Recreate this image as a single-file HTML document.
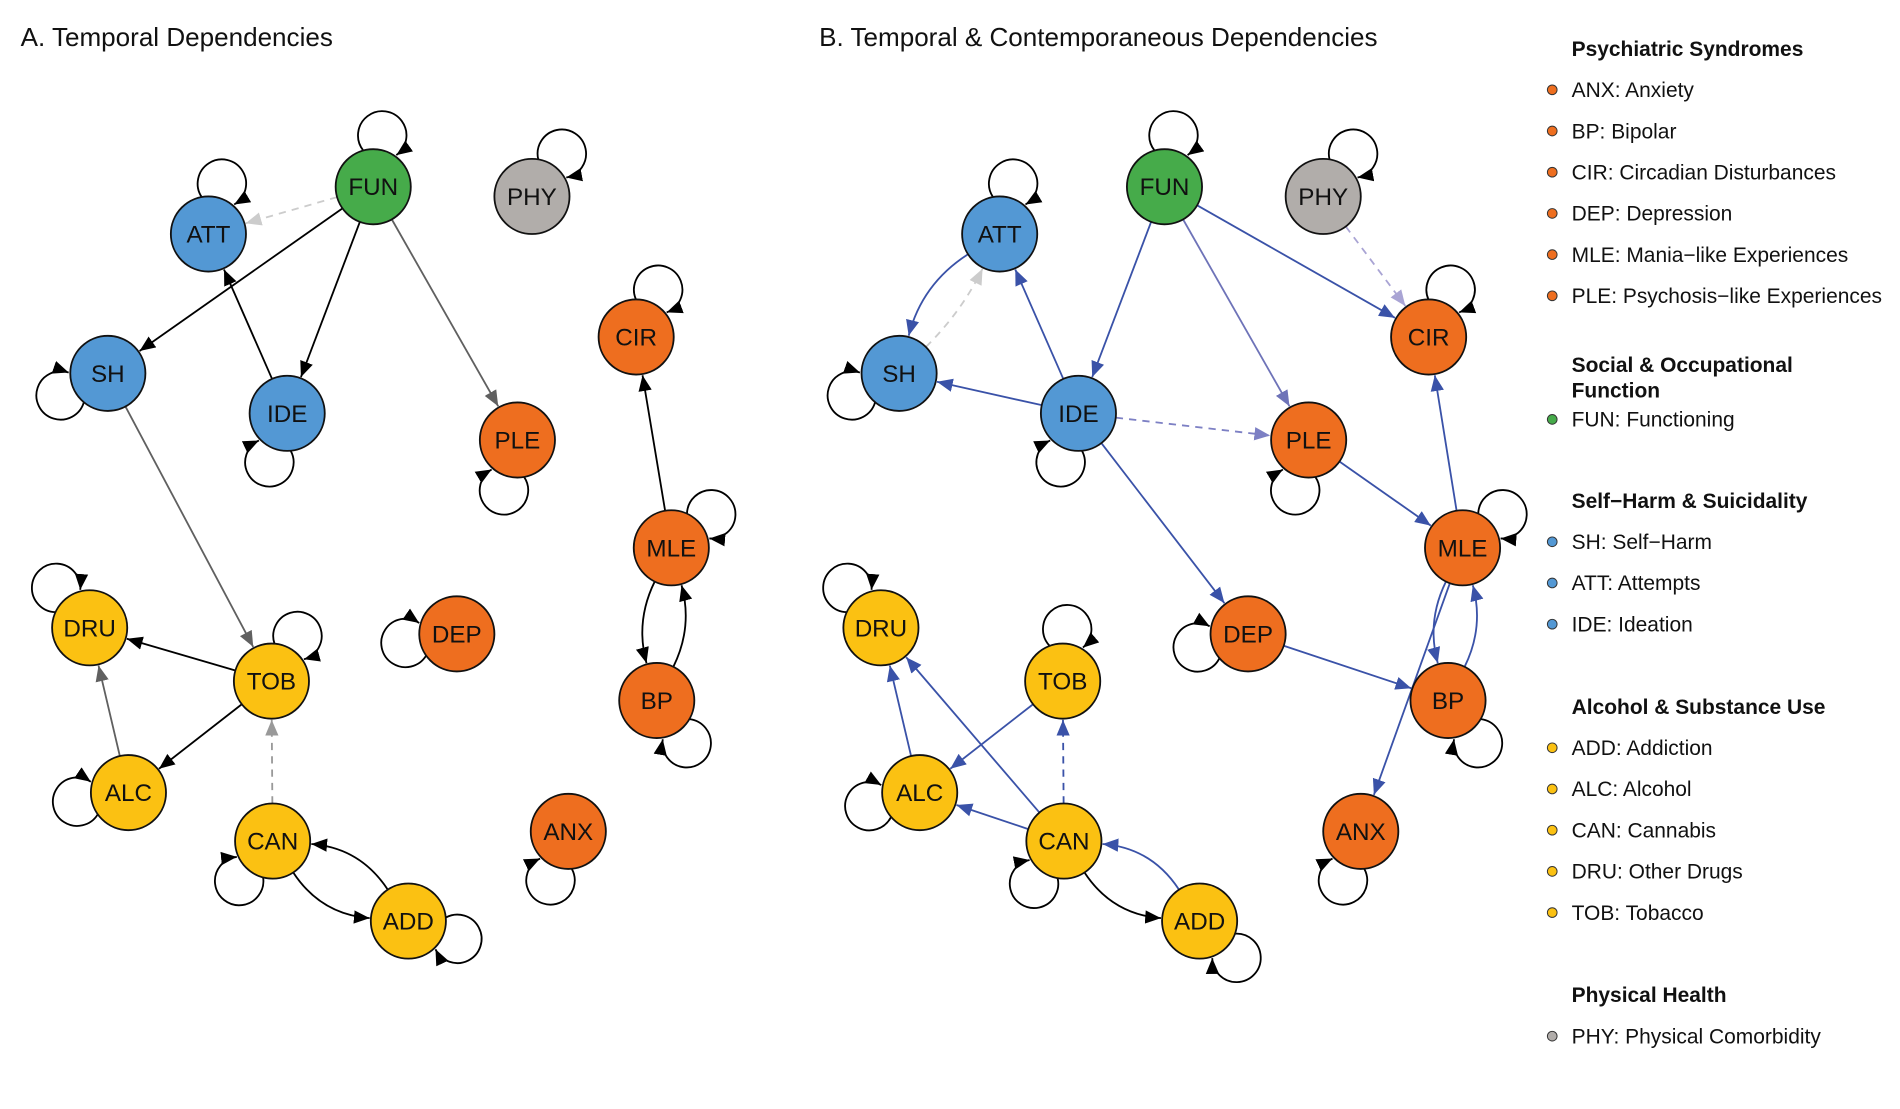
<!DOCTYPE html>
<html><head><meta charset="utf-8">
<style>
html,body{margin:0;padding:0;background:#fff;}
svg{display:block;}
text{font-family:"Liberation Sans",Arial,sans-serif;}
</style></head>
<body>
<svg id="s" width="1900" height="1109" viewBox="0 0 1568 915" xmlns="http://www.w3.org/2000/svg">
<defs id="defs"></defs>
<g id="edges"></g>
<g id="nodes"></g>
<g id="labels" font-size="20" text-anchor="middle" fill="#111">
<text x="308" y="161">FUN</text>
<text x="172" y="200">ATT</text>
<text x="439" y="169">PHY</text>
<text x="89" y="315">SH</text>
<text x="237" y="348">IDE</text>
<text x="427" y="370">PLE</text>
<text x="525" y="285">CIR</text>
<text x="554" y="459">MLE</text>
<text x="542" y="585">BP</text>
<text x="74" y="525">DRU</text>
<text x="224" y="569">TOB</text>
<text x="377" y="530">DEP</text>
<text x="106" y="661">ALC</text>
<text x="225" y="701">CAN</text>
<text x="337" y="767">ADD</text>
<text x="469" y="693">ANX</text>
<text x="961" y="161">FUN</text>
<text x="825" y="200">ATT</text>
<text x="1092" y="169">PHY</text>
<text x="742" y="315">SH</text>
<text x="890" y="348">IDE</text>
<text x="1080" y="370">PLE</text>
<text x="1179" y="285">CIR</text>
<text x="1207" y="459">MLE</text>
<text x="1195" y="585">BP</text>
<text x="727" y="525">DRU</text>
<text x="877" y="569">TOB</text>
<text x="1030" y="530">DEP</text>
<text x="759" y="661">ALC</text>
<text x="878" y="701">CAN</text>
<text x="990" y="767">ADD</text>
<text x="1123" y="693">ANX</text>
</g>
<g font-size="21.5" fill="#111">
<text x="17" y="38">A. Temporal Dependencies</text>
<text x="676" y="38">B. Temporal &amp; Contemporaneous Dependencies</text>
</g>
<g font-size="17.3" fill="#111">
<text x="1297" y="46" font-weight="bold">Psychiatric Syndromes</text>
<text x="1297" y="80">ANX: Anxiety</text>
<text x="1297" y="114">BP: Bipolar</text>
<text x="1297" y="148">CIR: Circadian Disturbances</text>
<text x="1297" y="182">DEP: Depression</text>
<text x="1297" y="216">MLE: Mania−like Experiences</text>
<text x="1297" y="250">PLE: Psychosis−like Experiences</text>
<text x="1297" y="307" font-weight="bold">Social &amp; Occupational</text>
<text x="1297" y="328" font-weight="bold">Function</text>
<text x="1297" y="352">FUN: Functioning</text>
<text x="1297" y="419" font-weight="bold">Self−Harm &amp; Suicidality</text>
<text x="1297" y="453">SH: Self−Harm</text>
<text x="1297" y="487">ATT: Attempts</text>
<text x="1297" y="521">IDE: Ideation</text>
<text x="1297" y="589" font-weight="bold">Alcohol &amp; Substance Use</text>
<text x="1297" y="623">ADD: Addiction</text>
<text x="1297" y="657">ALC: Alcohol</text>
<text x="1297" y="691">CAN: Cannabis</text>
<text x="1297" y="725">DRU: Other Drugs</text>
<text x="1297" y="759">TOB: Tobacco</text>
<text x="1297" y="827" font-weight="bold">Physical Health</text>
<text x="1297" y="861">PHY: Physical Comorbidity</text>
</g>
<g id="legdots"></g>
</svg>
<script>
(function(){
var NS="http://www.w3.org/2000/svg";
var R=31;
var C={b:"#5398d4",g:"#46ab4a",y:"#fbc112",o:"#ee6e1f",p:"#b1adaa"};
var A={FUN:[308,154,"g"],ATT:[172,193,"b"],PHY:[439,162,"p"],SH:[89,308,"b"],IDE:[237,341,"b"],PLE:[427,363,"o"],CIR:[525,278,"o"],MLE:[554,452,"o"],BP:[542,578,"o"],DRU:[74,518,"y"],TOB:[224,562,"y"],DEP:[377,523,"o"],ALC:[106,654,"y"],CAN:[225,694,"y"],ADD:[337,760,"y"],ANX:[469,686,"o"]};
var B={FUN:[961,154,"g"],ATT:[825,193,"b"],PHY:[1092,162,"p"],SH:[742,308,"b"],IDE:[890,341,"b"],PLE:[1080,363,"o"],CIR:[1179,278,"o"],MLE:[1207,452,"o"],BP:[1195,578,"o"],DRU:[727,518,"y"],TOB:[877,562,"y"],DEP:[1030,523,"o"],ALC:[759,654,"y"],CAN:[878,694,"y"],ADD:[990,760,"y"],ANX:[1123,686,"o"]};
var defs=document.getElementById("defs"),E=document.getElementById("edges"),N=document.getElementById("nodes");
var mk={},mi=0;
function marker(col){
 if(mk[col])return mk[col];
 var id="m"+(mi++);
 var m=document.createElementNS(NS,"marker");
 m.setAttribute("id",id);m.setAttribute("markerUnits","userSpaceOnUse");
 m.setAttribute("markerWidth","14");m.setAttribute("markerHeight","12");
 m.setAttribute("refX","13");m.setAttribute("refY","6");m.setAttribute("orient","auto");
 m.setAttribute("viewBox","0 0 14 12");
 var p=document.createElementNS(NS,"path");p.setAttribute("d","M0,0.5 L13,6 L0,11.5 z");p.setAttribute("fill",col);
 m.appendChild(p);defs.appendChild(m);mk[col]="url(#"+id+")";return mk[col];
}
function path(d,col,dash){
 var p=document.createElementNS(NS,"path");p.setAttribute("d",d);p.setAttribute("fill","none");
 p.setAttribute("stroke",col);p.setAttribute("stroke-width","1.5");
 if(dash)p.setAttribute("stroke-dasharray","6,5");
 p.setAttribute("marker-end",marker(col));E.appendChild(p);
}
function edge(G,a,b,col,dash,cv){
 var P=G[a],Q=G[b];var dx=Q[0]-P[0],dy=Q[1]-P[1],L=Math.hypot(dx,dy);
 var cx=(P[0]+Q[0])/2+(cv||0)*(-dy/L)*2,cy=(P[1]+Q[1])/2+(cv||0)*(dx/L)*2;
 function u(X,Y,x,y){var l=Math.hypot(x-X,y-Y);return[(x-X)/l,(y-Y)/l];}
 var s=u(P[0],P[1],cx,cy),e=u(Q[0],Q[1],cx,cy);
 var sx=P[0]+s[0]*R,sy=P[1]+s[1]*R,ex=Q[0]+e[0]*(R+1),ey=Q[1]+e[1]*(R+1);
 path("M"+sx+","+sy+" Q"+cx+","+cy+" "+ex+","+ey,col,dash);
}
function loop(G,a,ang){
 var P=G[a],t=ang*Math.PI/180;
 var d=43,rl=20;
 var aa=(d*d+R*R-rl*rl)/(2*d),h=Math.sqrt(R*R-aa*aa);
 var ux=Math.cos(t),uy=Math.sin(t),px=-uy,py=ux;
 var sx=P[0]+aa*ux-h*px,sy=P[1]+aa*uy-h*py,ex=P[0]+(aa+1)*ux+(h+1)*px,ey=P[1]+(aa+1)*uy+(h+1)*py;
 path("M"+sx+","+sy+" A"+rl+","+rl+" 0 1 1 "+ex+","+ey,"#000",false);
}
var loopsA={FUN:-80,ATT:-75,PHY:-55,SH:155,IDE:110,PLE:105,CIR:-65,MLE:-40,BP:55,DRU:-130,TOB:-60,DEP:170,ALC:170,CAN:130,ADD:20,ANX:110};
var loopsB={FUN:-80,ATT:-75,PHY:-55,SH:155,IDE:110,PLE:105,CIR:-65,MLE:-40,BP:55,DRU:-130,TOB:-85,DEP:165,ALC:165,CAN:125,ADD:45,ANX:110};
for(var k in loopsA)loop(A,k,loopsA[k]);
for(var k in loopsB)loop(B,k,loopsB[k]);
var bk="#000",gr="#606060",lg="#cccccc",lg2="#999";
edge(A,"FUN","ATT",lg,true);edge(A,"FUN","SH",bk);edge(A,"FUN","IDE",bk);edge(A,"FUN","PLE",gr);
edge(A,"IDE","ATT",bk);edge(A,"SH","TOB",gr);edge(A,"MLE","CIR",bk);
edge(A,"MLE","BP",bk,false,12);edge(A,"BP","MLE",bk,false,12);
edge(A,"TOB","DRU",bk);edge(A,"TOB","ALC",bk);edge(A,"ALC","DRU",gr);edge(A,"CAN","TOB",lg2,true);
edge(A,"CAN","ADD",bk,false,16);edge(A,"ADD","CAN",bk,false,16);
var bl="#3a52a8",lb="#6e73b8",lp="#a9a4d4",dp="#7d80c4";
edge(B,"ATT","SH",bl,false,14);edge(B,"SH","ATT",lg,true,6);edge(B,"IDE","ATT",bl);edge(B,"IDE","SH",bl);
edge(B,"FUN","IDE",bl);edge(B,"FUN","PLE",lb);edge(B,"FUN","CIR",bl);edge(B,"PHY","CIR",lp,true);
edge(B,"IDE","PLE",dp,true);edge(B,"IDE","DEP",bl);edge(B,"PLE","MLE",bl);edge(B,"MLE","CIR",bl);
edge(B,"MLE","BP",bl,false,12);edge(B,"BP","MLE",bl,false,12);edge(B,"MLE","ANX",bl);edge(B,"DEP","BP",bl);
edge(B,"TOB","ALC",bl);edge(B,"ALC","DRU",bl);edge(B,"CAN","DRU",bl);edge(B,"CAN","ALC",bl);edge(B,"CAN","TOB",bl,true);
edge(B,"CAN","ADD",bk,false,16);edge(B,"ADD","CAN",bl,false,16);
function nodes(G){for(var k in G){var c=document.createElementNS(NS,"circle");c.setAttribute("cx",G[k][0]);c.setAttribute("cy",G[k][1]);c.setAttribute("r",R);c.setAttribute("fill",C[G[k][2]]);c.setAttribute("stroke","#111");c.setAttribute("stroke-width","1.5");N.appendChild(c);}}
nodes(A);nodes(B);
var L=document.getElementById("legdots");
var dots=[[74,"o"],[108,"o"],[142,"o"],[176,"o"],[210,"o"],[244,"o"],[346,"g"],[447,"b"],[481,"b"],[515,"b"],[617,"y"],[651,"y"],[685,"y"],[719,"y"],[753,"y"],[855,"p"]];
dots.forEach(function(d){var c=document.createElementNS(NS,"circle");c.setAttribute("cx",1281);c.setAttribute("cy",d[0]);c.setAttribute("r",4);c.setAttribute("fill",C[d[1]]);c.setAttribute("stroke","#333");c.setAttribute("stroke-width","0.8");L.appendChild(c);});
})();
</script>
</body></html>
